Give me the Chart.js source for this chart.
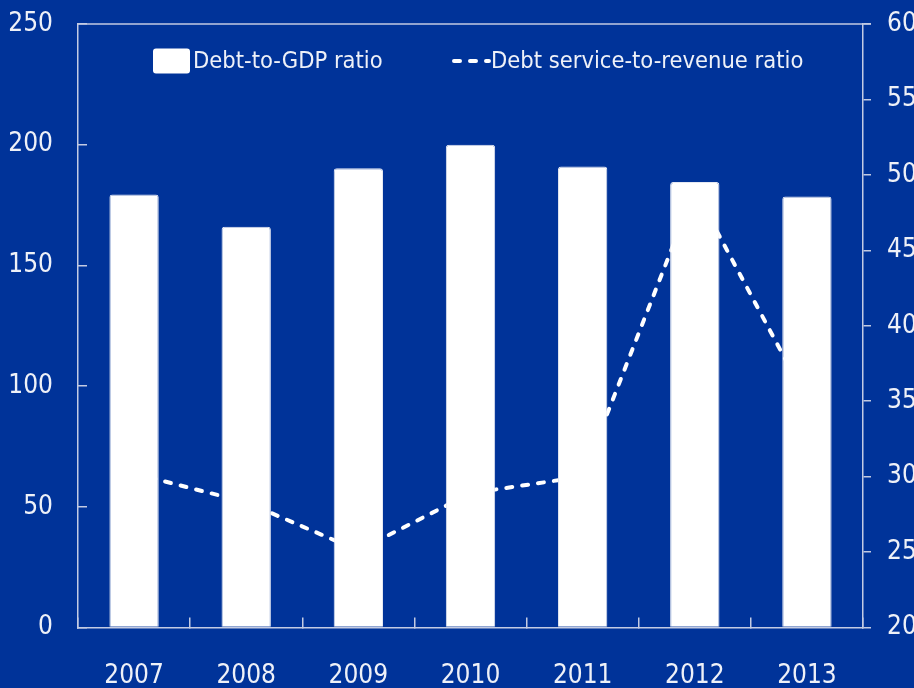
<!DOCTYPE html>
<html>
<head>
<meta charset="utf-8">
<script src="https://cdn.jsdelivr.net/npm/chart.js@4.4.1/dist/chart.umd.min.js"></script>
<style>
  html, body { margin: 0; padding: 0; background: #003399; overflow: hidden; }
  #wrap { width: 914px; height: 688px; position: relative; }
</style>
</head>
<body>
<div id="wrap"><canvas id="chart"></canvas></div>
<script>
// === データ ===
const years = ['2007', '2008', '2009', '2010', '2011', '2012', '2013'];
const debtToGdp = [179.4, 166, 190.2, 200, 191, 184.6, 178.5];
const debtServiceToRevenue = [30.2, 28.3, 25.1, 28.9, 30.0, 49.0, 35.1];
const leftTicks = [0, 50, 100, 150, 200, 250];
const rightTicks = [20, 25, 30, 35, 40, 45, 50, 55, 60];
const seriesLabels = ['Debt-to-GDP ratio', 'Debt service-to-revenue ratio'];

// === 見た目 ===
const FONT = '"Liberation Sans Narrow", "DejaVu Sans Condensed", sans-serif';
const AXIS_COLOR = '#c3cbe3';
const TEXT_COLOR = '#eef1f8';
const TICK_SIZE = 26;

Chart.defaults.font.family = FONT;

// 縦軸の幅を固定し、ラベル分の上下余白は付けない
function fixYAxis(width) {
  return (s) => { s.width = width; s.paddingTop = 0; s.paddingBottom = 0; };
}

// 枠の上辺
const topBorder = {
  id: 'topBorder',
  afterDraw(chart) {
    const { ctx, chartArea } = chart;
    ctx.save();
    ctx.strokeStyle = AXIS_COLOR;
    ctx.lineWidth = 1.5;
    ctx.beginPath();
    ctx.moveTo(chartArea.left, chartArea.top);
    ctx.lineTo(chartArea.right + 8, chartArea.top);
    ctx.stroke();
    ctx.restore();
  }
};

// 凡例（プロット内に描く）
const insideLegend = {
  id: 'insideLegend',
  afterDatasetsDraw(chart) {
    const { ctx, chartArea } = chart;
    const ds = chart.data.datasets;
    const y = chartArea.top + 37;
    const x0 = chartArea.left + 75;
    ctx.save();
    ctx.font = '23.5px ' + FONT;
    ctx.textBaseline = 'middle';
    ctx.fillStyle = '#ffffff';
    ctx.beginPath();
    ctx.roundRect(x0, y - 12.5, 37, 25, 3);
    ctx.fill();
    ctx.fillStyle = TEXT_COLOR;
    ctx.fillText(ds[0].label, x0 + 40, y + 1);

    const x1 = chartArea.left + 374;
    ctx.strokeStyle = '#ffffff';
    ctx.lineWidth = 4;
    ctx.lineCap = 'round';
    ctx.setLineDash([6, 10]);
    ctx.beginPath();
    ctx.moveTo(x1 + 2, y);
    ctx.lineTo(x1 + 37, y);
    ctx.stroke();
    ctx.setLineDash([]);
    ctx.fillText(ds[1].label, x1 + 39, y + 1);
    ctx.restore();
  }
};

const ctx = document.getElementById('chart').getContext('2d');
new Chart(ctx, {
  data: {
    labels: years,
    datasets: [
      {
        type: 'bar', label: seriesLabels[0], data: debtToGdp, yAxisID: 'y', order: 1,
        backgroundColor: '#ffffff', borderColor: '#e4e8f2', borderWidth: 1, borderRadius: 3,
        barPercentage: 0.44, categoryPercentage: 1
      },
      {
        type: 'line', label: seriesLabels[1], data: debtServiceToRevenue, yAxisID: 'y1', order: 2,
        borderColor: '#ffffff', borderWidth: 4, borderDash: [6, 10], borderCapStyle: 'round',
        pointRadius: 0, tension: 0, fill: false
      }
    ]
  },
  options: {
    responsive: true, maintainAspectRatio: false, animation: false,
    devicePixelRatio: 1,
    layout: { autoPadding: false, padding: { top: 24, left: 0, right: 0, bottom: 0 } },
    plugins: { legend: { display: false }, tooltip: { enabled: false } },
    scales: {
      x: {
        offset: true,
        grid: { offset: true, drawOnChartArea: false, tickLength: -10, color: AXIS_COLOR, lineWidth: 1.5 },
        border: { color: AXIS_COLOR, width: 1.5 },
        ticks: { color: TEXT_COLOR, font: { size: TICK_SIZE }, padding: 43, maxRotation: 0, autoSkip: false },
        afterFit: (s) => { s.height = 60.5; }
      },
      y: {
        position: 'left',
        min: leftTicks[0], max: leftTicks[leftTicks.length - 1],
        grid: { drawOnChartArea: false, tickLength: -9, color: AXIS_COLOR, lineWidth: 1.5 },
        border: { color: AXIS_COLOR, width: 1.5 },
        ticks: { stepSize: leftTicks[1] - leftTicks[0], color: TEXT_COLOR, font: { size: TICK_SIZE }, padding: 34 },
        afterFit: fixYAxis(78)
      },
      y1: {
        position: 'right',
        min: rightTicks[0], max: rightTicks[rightTicks.length - 1],
        grid: { drawOnChartArea: false, tickLength: 8, color: AXIS_COLOR, lineWidth: 1.5 },
        border: { color: AXIS_COLOR, width: 1.5 },
        ticks: { stepSize: rightTicks[1] - rightTicks[0], color: TEXT_COLOR, font: { size: TICK_SIZE }, padding: 16 },
        afterFit: fixYAxis(51)
      }
    }
  },
  plugins: [topBorder, insideLegend]
});
</script>
</body>
</html>
